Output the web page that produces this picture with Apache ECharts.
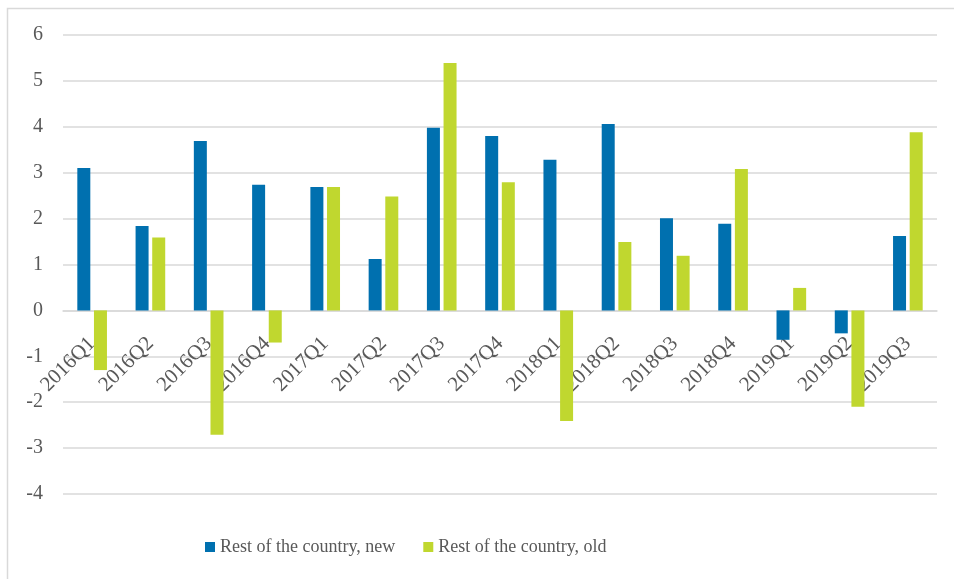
<!DOCTYPE html>
<html>
<head>
<meta charset="utf-8">
<script src="https://cdn.jsdelivr.net/npm/echarts@6/dist/echarts.min.js"></script>
<style>
  html, body { margin: 0; padding: 0; background: #fff; }
  #chart { width: 954px; height: 579px; }
</style>
</head>
<body>
<div id="chart"></div>
<script>
// quarters on the x axis
const quarters = [
  "2016Q1", "2016Q2", "2016Q3", "2016Q4",
  "2017Q1", "2017Q2", "2017Q3", "2017Q4",
  "2018Q1", "2018Q2", "2018Q3", "2018Q4",
  "2019Q1", "2019Q2", "2019Q3"
];

// series values
const restNew = [3.1, 1.84, 3.69, 2.74, 2.69, 1.12, 3.98, 3.8, 3.28, 4.06, 2.01, 1.89, -0.64, -0.5, 1.62];
const restOld = [-1.3, 1.59, -2.71, -0.7, 2.69, 2.48, 5.39, 2.79, -2.41, 1.49, 1.19, 3.08, 0.49, -2.1, 3.88];

const seriesNames = ["Rest of the country, new", "Rest of the country, old"];

const textColor = "#595959";
const fontFamily = "'Liberation Serif', 'Times New Roman', serif";

const chart = echarts.init(document.getElementById("chart"));

// grid geometry: the x axis sits on the zero line, 4 units above the bottom
const gridTop = 35;
const gridBottom = 85;
const yMin = -4;
const yMax = 6;
const plotHeight = 579 - gridTop - gridBottom;
const zeroOffset = -plotHeight * (0 - yMin) / (yMax - yMin);

const options = {
  animation: false,
  textStyle: { fontFamily: fontFamily },
  // outer frame of the chart area
  graphic: [{
    type: "rect",
    left: 5,
    top: 6,
    shape: { width: 1000, height: 600 },
    style: { fill: "none", stroke: "#d9d9d9", lineWidth: 1.5 },
    silent: true,
    z: -1
  }],
  grid: {
    left: 63,
    right: 17,
    top: gridTop,
    bottom: gridBottom
  },
  legend: {
    bottom: 18,
    left: 200,
    itemWidth: 10,
    itemHeight: 10,
    itemGap: 28,
    icon: "rect",
    textStyle: {
      color: textColor,
      fontSize: 18,
      fontFamily: fontFamily
    },
    data: seriesNames
  },
  xAxis: {
    type: "category",
    data: quarters,
    offset: zeroOffset,
    axisLine: {
      onZero: false,
      lineStyle: { color: "#d9d9d9", width: 1.5 }
    },
    axisTick: { show: false },
    axisLabel: {
      rotate: 45,
      margin: 30,
      interval: 0,
      color: textColor,
      fontSize: 21,
      fontFamily: fontFamily
    }
  },
  yAxis: {
    type: "value",
    min: yMin,
    max: yMax,
    interval: 1,
    axisLine: { show: false },
    axisTick: { show: false },
    axisLabel: {
      margin: 20,
      color: textColor,
      fontSize: 20,
      fontFamily: fontFamily
    },
    splitLine: {
      lineStyle: { color: "#d9d9d9", width: 1.5 }
    }
  },
  series: [
    {
      name: seriesNames[0],
      type: "bar",
      data: restNew,
      barWidth: 13,
      barGap: "28%",
      itemStyle: { color: "#0070AF" }
    },
    {
      name: seriesNames[1],
      type: "bar",
      data: restOld,
      barWidth: 13,
      barGap: "28%",
      itemStyle: { color: "#C0D72F" }
    }
  ]
};

chart.setOption(options);

window.addEventListener("resize", () => {
  chart.resize();
});
</script>
</body>
</html>
